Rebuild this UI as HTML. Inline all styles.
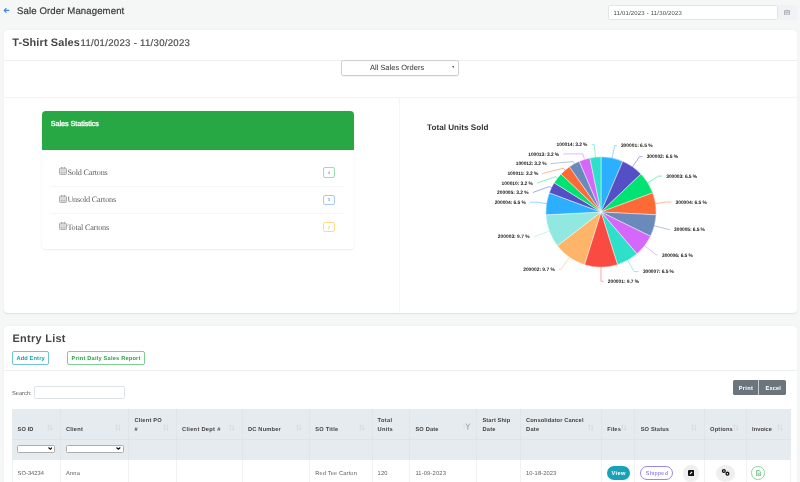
<!DOCTYPE html>
<html><head><meta charset="utf-8"><title>Sale Order Management</title>
<style>
*{box-sizing:border-box;margin:0;padding:0}
html,body{width:800px;height:482px;overflow:hidden;background:#f5f7f6;font-family:"Liberation Sans",sans-serif;color:#444;text-rendering:geometricPrecision}
.a{position:absolute}
.t{position:absolute;white-space:pre;line-height:20px}
.card{background:#fff;border-radius:4px;box-shadow:0 .6px 1.2px rgba(0,0,0,.09)}
.ln{position:absolute;background:#eceef0}
.sa{position:absolute;width:6px;height:7px}
</style></head><body>
<header>
<svg class="a" style="left:3px;top:7px;width:7px;height:7px" viewBox="0 0 7 7"><path d="M6.2 3.4H1.4M3.4 1.2L1.2 3.4L3.4 5.6" fill="none" stroke="#3b82f6" stroke-width="1.15"/></svg>
<div class="a" style="left:607.7px;top:5.3px;width:170.6px;height:14.9px;background:#fff;border:.6px solid #e1e5ea;border-radius:1.6px"></div>
<div class="a" style="left:778.4px;top:5.3px;width:18.4px;height:14.9px;background:#f0f2f5;border-radius:0 1.6px 1.6px 0"></div>
<svg class="a" style="left:784px;top:9.8px;width:6.2px;height:5.6px" viewBox="0 0 62 56"><rect x="4" y="6" width="54" height="46" rx="6" fill="none" stroke="#8a9097" stroke-width="7"/><path d="M4 20H58M22 20V52M40 20V52" stroke="#8a9097" stroke-width="5"/></svg>

<span class="t" style="left:17.00px;top:2px;font-size:9.6px;letter-spacing:0.111px;color:#3d3d3d;-webkit-text-stroke:.22px #3d3d3d;">Sale Order Management</span>
<span class="t" style="left:613.60px;top:4px;font-size:5.9px;letter-spacing:0.221px;color:#444;">11/01/2023 - 11/30/2023</span>
</header>
<main>
<section id="summary">
<div class="a card" style="left:3.5px;top:30px;width:793.2px;height:283px"></div>
<div class="ln" style="left:3.5px;top:59.8px;width:793.2px;height:.7px"></div>
<div class="ln" style="left:3.5px;top:97px;width:793.2px;height:1px;background:#f3f4f5"></div>
<div class="ln" style="left:399px;top:97.5px;width:1px;height:215.5px;background:#f4f5f6"></div>
<div class="a" style="left:341px;top:60px;width:117.6px;height:16px;background:#fff;border:1px solid #cecece;border-radius:2.5px;box-shadow:0 .5px .8px rgba(0,0,0,.06)"></div>
<svg class="a" style="left:451.6px;top:65.9px;width:2.8px;height:1.9px" viewBox="0 0 28 19"><path d="M0 0H28L14 19Z" fill="#555"/></svg>

<div class="a" style="left:42.3px;top:111px;width:311.7px;height:138.2px;background:#fff;border-radius:4px;box-shadow:0 .5px 2px rgba(0,0,0,.085)"></div>
<div class="a" style="left:42.3px;top:111px;width:311.7px;height:38.8px;background:#28a745;border-radius:4px 4px 0 0"></div>
<div class="ln" style="left:50.8px;top:185.5px;width:294.2px;height:.6px;background:#f5f6f7"></div>
<div class="ln" style="left:50.8px;top:213px;width:294.2px;height:.6px;background:#f5f6f7"></div>
<svg width="0" height="0" style="position:absolute"><defs><g id="ic"><rect x="5" y="12" width="70" height="63" rx="9" fill="none" stroke="#8c8c8c" stroke-width="7"/><path d="M5 28H75" stroke="#9a9a9a" stroke-width="5" fill="none"/><path d="M27 2V14M53 2V14" stroke="#666" stroke-width="8" fill="none"/><path d="M21 36v9M40 36v9M59 36v9M21 50v9M40 50v9M59 50v9M21 63v6M40 63v6M59 63v6" stroke="#6b7080" stroke-width="9"/></g></defs></svg>
<svg class="a" style="left:59px;top:167.3px;width:8px;height:8px" viewBox="0 0 80 80"><use href="#ic"/></svg>
<svg class="a" style="left:59px;top:194.8px;width:8px;height:8px" viewBox="0 0 80 80"><use href="#ic"/></svg>
<svg class="a" style="left:59px;top:222.3px;width:8px;height:8px" viewBox="0 0 80 80"><use href="#ic"/></svg>
<div class="a" style="left:323.2px;top:167.2px;width:11.7px;height:10.4px;border:1.2px solid #9fdcae;border-radius:2px"></div>
<div class="a" style="left:323.2px;top:194.6px;width:11.7px;height:10.4px;border:1.2px solid #a8c8f5;border-radius:2px"></div>
<div class="a" style="left:323.2px;top:222px;width:11.7px;height:10.4px;border:1.2px solid #ffdc8c;border-radius:2px"></div>

<svg class="a" style="left:0;top:0" width="800" height="482" viewBox="0 0 800 482">
<path d="M601.0 212.0L601.00 156.80A55.2 55.2 0 0 1 622.77 161.27Z" fill="#2caffe" stroke="#fff" stroke-width="0.45" stroke-linejoin="round"/>
<path d="M601.0 212.0L622.77 161.27A55.2 55.2 0 0 1 641.01 173.97Z" fill="#544fc5" stroke="#fff" stroke-width="0.45" stroke-linejoin="round"/>
<path d="M601.0 212.0L641.01 173.97A55.2 55.2 0 0 1 652.76 192.83Z" fill="#00e272" stroke="#fff" stroke-width="0.45" stroke-linejoin="round"/>
<path d="M601.0 212.0L652.76 192.83A55.2 55.2 0 0 1 656.13 214.80Z" fill="#fe6a35" stroke="#fff" stroke-width="0.45" stroke-linejoin="round"/>
<path d="M601.0 212.0L656.13 214.80A55.2 55.2 0 0 1 650.56 236.31Z" fill="#6b8abc" stroke="#fff" stroke-width="0.45" stroke-linejoin="round"/>
<path d="M601.0 212.0L650.56 236.31A55.2 55.2 0 0 1 636.96 253.88Z" fill="#d568fb" stroke="#fff" stroke-width="0.45" stroke-linejoin="round"/>
<path d="M601.0 212.0L636.96 253.88A55.2 55.2 0 0 1 617.52 264.67Z" fill="#2ee0ca" stroke="#fff" stroke-width="0.45" stroke-linejoin="round"/>
<path d="M601.0 212.0L617.52 264.67A55.2 55.2 0 0 1 584.48 264.67Z" fill="#fa4b42" stroke="#fff" stroke-width="0.45" stroke-linejoin="round"/>
<path d="M601.0 212.0L584.48 264.67A55.2 55.2 0 0 1 557.35 245.79Z" fill="#feb56a" stroke="#fff" stroke-width="0.45" stroke-linejoin="round"/>
<path d="M601.0 212.0L557.35 245.79A55.2 55.2 0 0 1 545.87 214.80Z" fill="#91e8e1" stroke="#fff" stroke-width="0.45" stroke-linejoin="round"/>
<path d="M601.0 212.0L545.87 214.80A55.2 55.2 0 0 1 549.24 192.83Z" fill="#2caffe" stroke="#fff" stroke-width="0.45" stroke-linejoin="round"/>
<path d="M601.0 212.0L549.24 192.83A55.2 55.2 0 0 1 554.15 182.80Z" fill="#544fc5" stroke="#fff" stroke-width="0.45" stroke-linejoin="round"/>
<path d="M601.0 212.0L554.15 182.80A55.2 55.2 0 0 1 560.99 173.97Z" fill="#00e272" stroke="#fff" stroke-width="0.45" stroke-linejoin="round"/>
<path d="M601.0 212.0L560.99 173.97A55.2 55.2 0 0 1 569.47 166.69Z" fill="#fe6a35" stroke="#fff" stroke-width="0.45" stroke-linejoin="round"/>
<path d="M601.0 212.0L569.47 166.69A55.2 55.2 0 0 1 579.23 161.27Z" fill="#6b8abc" stroke="#fff" stroke-width="0.45" stroke-linejoin="round"/>
<path d="M601.0 212.0L579.23 161.27A55.2 55.2 0 0 1 589.89 157.93Z" fill="#d568fb" stroke="#fff" stroke-width="0.45" stroke-linejoin="round"/>
<path d="M601.0 212.0L589.89 157.93A55.2 55.2 0 0 1 601.00 156.80Z" fill="#2ee0ca" stroke="#fff" stroke-width="0.45" stroke-linejoin="round"/>
<path d="M616.70 145.50L614.67 145.50L612.61 155.48L612.11 157.93" fill="none" stroke="#2caffe" stroke-width="0.5"/>
<path d="M642.50 156.70L639.49 156.70L633.96 164.64L632.53 166.69" fill="none" stroke="#544fc5" stroke-width="0.5"/>
<path d="M662.10 176.10L658.60 176.10L649.97 181.48L647.85 182.80" fill="none" stroke="#00e272" stroke-width="0.5"/>
<path d="M671.40 202.00L666.28 202.00L658.03 203.26L655.56 203.64" fill="none" stroke="#fe6a35" stroke-width="0.5"/>
<path d="M669.90 229.60L668.98 229.60L656.86 226.46L654.44 225.84" fill="none" stroke="#6b8abc" stroke-width="0.5"/>
<path d="M657.80 254.80L656.29 254.80L646.63 247.32L644.65 245.79" fill="none" stroke="#d568fb" stroke-width="0.5"/>
<path d="M638.70 271.60L634.08 271.60L629.00 262.45L627.79 260.26" fill="none" stroke="#2ee0ca" stroke-width="0.5"/>
<path d="M603.60 281.30L601.00 281.30L601.00 269.70L601.00 267.20" fill="none" stroke="#fa4b42" stroke-width="0.5"/>
<path d="M559.00 269.30L561.12 269.30L568.04 259.36L569.47 257.31" fill="none" stroke="#feb56a" stroke-width="0.5"/>
<path d="M533.80 236.50L534.85 236.50L546.89 232.04L549.24 231.17" fill="none" stroke="#91e8e1" stroke-width="0.5"/>
<path d="M530.00 202.20L537.03 202.20L543.97 203.26L546.44 203.64" fill="none" stroke="#2caffe" stroke-width="0.5"/>
<path d="M532.80 192.50L549.20 186.59L551.44 187.69" fill="none" stroke="#544fc5" stroke-width="0.5"/>
<path d="M537.10 183.20L555.37 176.68L557.35 178.21" fill="none" stroke="#00e272" stroke-width="0.5"/>
<path d="M542.40 173.50L563.42 168.22L565.04 170.12" fill="none" stroke="#fe6a35" stroke-width="0.5"/>
<path d="M550.60 163.60L573.00 161.55L574.21 163.74" fill="none" stroke="#6b8abc" stroke-width="0.5"/>
<path d="M563.30 153.90L582.77 153.90L583.73 156.95L584.48 159.33" fill="none" stroke="#d568fb" stroke-width="0.5"/>
<path d="M591.60 144.60L594.15 144.60L595.16 154.60L595.42 157.08" fill="none" stroke="#2ee0ca" stroke-width="0.5"/>
</svg>

<span class="t" style="left:12.20px;top:33px;font-size:10.9px;letter-spacing:0.140px;color:#444;font-weight:bold;">T-Shirt Sales</span>
<span class="t" style="left:80.50px;top:34px;font-size:9.6px;letter-spacing:0.287px;color:#505050;-webkit-text-stroke:.2px #505050;">11/01/2023 - 11/30/2023</span>
<span class="t" style="left:369.90px;top:58px;font-size:7.5px;letter-spacing:0.007px;color:#333;">All Sales Orders</span>
<span class="t" style="left:50.80px;top:114px;font-size:7.3px;letter-spacing:-0.087px;color:#fff;-webkit-text-stroke:.3px #fff;">Sales Statistics</span>
<span class="t" style="left:67.40px;top:163px;font-size:8.2px;letter-spacing:-0.196px;color:#606060;font-family:'Liberation Serif',serif;">Sold Cartons</span>
<span class="t" style="left:67.40px;top:190px;font-size:8.2px;letter-spacing:-0.184px;color:#606060;font-family:'Liberation Serif',serif;">Unsold Cartons</span>
<span class="t" style="left:67.40px;top:218px;font-size:8.2px;letter-spacing:-0.203px;color:#606060;font-family:'Liberation Serif',serif;">Total Cartons</span>
<span class="t" style="left:427.10px;top:118px;font-size:8.1px;letter-spacing:0.025px;color:#333;font-weight:bold;">Total Units Sold</span>
<span class="t" style="left:327.80px;top:163px;font-size:4.2px;letter-spacing:0.356px;color:#6cc283;font-weight:bold;">4</span>
<span class="t" style="left:327.80px;top:190px;font-size:4.2px;letter-spacing:0.356px;color:#7aa7e6;font-weight:bold;">3</span>
<span class="t" style="left:327.80px;top:218px;font-size:4.2px;letter-spacing:0.356px;color:#f5c15a;font-weight:bold;">7</span>
<span class="t" style="left:620.90px;top:137px;font-size:4.9px;letter-spacing:-0.010px;color:#1a1a1a;font-weight:bold;">300001: 6.5 %</span>
<span class="t" style="left:646.70px;top:148px;font-size:4.9px;letter-spacing:-0.041px;color:#1a1a1a;font-weight:bold;">300002: 6.5 %</span>
<span class="t" style="left:666.30px;top:168px;font-size:4.9px;letter-spacing:-0.087px;color:#1a1a1a;font-weight:bold;">300003: 6.5 %</span>
<span class="t" style="left:675.60px;top:194px;font-size:4.9px;letter-spacing:-0.048px;color:#1a1a1a;font-weight:bold;">300004: 6.5 %</span>
<span class="t" style="left:674.10px;top:221px;font-size:4.9px;letter-spacing:-0.079px;color:#1a1a1a;font-weight:bold;">300005: 6.5 %</span>
<span class="t" style="left:662.00px;top:247px;font-size:4.9px;letter-spacing:-0.079px;color:#1a1a1a;font-weight:bold;">300006: 6.5 %</span>
<span class="t" style="left:642.90px;top:263px;font-size:4.9px;letter-spacing:-0.064px;color:#1a1a1a;font-weight:bold;">300007: 6.5 %</span>
<span class="t" style="left:607.80px;top:273px;font-size:4.9px;letter-spacing:-0.033px;color:#1a1a1a;font-weight:bold;">200001: 9.7 %</span>
<span class="t" style="left:523.20px;top:261px;font-size:4.9px;letter-spacing:-0.018px;color:#1a1a1a;font-weight:bold;">200002: 9.7 %</span>
<span class="t" style="left:497.80px;top:228px;font-size:4.9px;letter-spacing:-0.002px;color:#1a1a1a;font-weight:bold;">200003: 9.7 %</span>
<span class="t" style="left:494.70px;top:194px;font-size:4.9px;letter-spacing:-0.056px;color:#1a1a1a;font-weight:bold;">200004: 6.5 %</span>
<span class="t" style="left:497.10px;top:184px;font-size:4.9px;letter-spacing:-0.025px;color:#1a1a1a;font-weight:bold;">200005: 3.2 %</span>
<span class="t" style="left:501.60px;top:175px;font-size:4.9px;letter-spacing:-0.041px;color:#1a1a1a;font-weight:bold;">100010: 3.2 %</span>
<span class="t" style="left:507.40px;top:165px;font-size:4.9px;letter-spacing:-0.057px;color:#1a1a1a;font-weight:bold;">100011: 3.2 %</span>
<span class="t" style="left:515.80px;top:155px;font-size:4.9px;letter-spacing:-0.094px;color:#1a1a1a;font-weight:bold;">100012: 3.2 %</span>
<span class="t" style="left:528.30px;top:146px;font-size:4.9px;letter-spacing:-0.079px;color:#1a1a1a;font-weight:bold;">100013: 3.2 %</span>
<span class="t" style="left:556.60px;top:136px;font-size:4.9px;letter-spacing:-0.079px;color:#1a1a1a;font-weight:bold;">100014: 3.2 %</span>
</section>
<section id="entry-list">
<div class="a card" style="left:3.5px;top:326.2px;width:793.2px;height:170px"></div>
<div class="a" style="left:12px;top:351px;width:36.8px;height:13.6px;border:.7px solid #6fc3d3;border-radius:2px"></div>
<div class="a" style="left:67px;top:351px;width:77.8px;height:13.6px;border:.7px solid #80cc92;border-radius:2px"></div>
<div class="ln" style="left:3.5px;top:369.6px;width:793.2px;height:.7px"></div>
<div class="a" style="left:34.4px;top:385.6px;width:90.4px;height:13.8px;border:.6px solid #dde2e7;border-radius:1.6px;background:#fff"></div>
<div class="a" style="left:733.1px;top:380.4px;width:53.2px;height:14.6px;background:#6c757d;border-radius:1.6px"></div>
<div class="a" style="left:758.3px;top:380.4px;width:1.2px;height:14.6px;background:#c9cdd1"></div>

<!-- table -->
<div class="a" style="left:12px;top:408.8px;width:778.9px;height:50.8px;background:#e6ebef"></div>
<div class="ln" style="left:12px;top:438.5px;width:778.9px;height:.6px;background:#dfe4e9"></div>
<div class="ln" style="left:60px;top:408.8px;width:1px;height:50.8px;background:#e0e5ea"></div><div class="ln" style="left:60px;top:459.6px;width:1px;height:30px;background:#f0f2f4"></div><div class="ln" style="left:128px;top:408.8px;width:1px;height:50.8px;background:#e0e5ea"></div><div class="ln" style="left:128px;top:459.6px;width:1px;height:30px;background:#f0f2f4"></div><div class="ln" style="left:176px;top:408.8px;width:1px;height:50.8px;background:#e0e5ea"></div><div class="ln" style="left:176px;top:459.6px;width:1px;height:30px;background:#f0f2f4"></div><div class="ln" style="left:242px;top:408.8px;width:1px;height:50.8px;background:#e0e5ea"></div><div class="ln" style="left:242px;top:459.6px;width:1px;height:30px;background:#f0f2f4"></div><div class="ln" style="left:309px;top:408.8px;width:1px;height:50.8px;background:#e0e5ea"></div><div class="ln" style="left:309px;top:459.6px;width:1px;height:30px;background:#f0f2f4"></div><div class="ln" style="left:372px;top:408.8px;width:1px;height:50.8px;background:#e0e5ea"></div><div class="ln" style="left:372px;top:459.6px;width:1px;height:30px;background:#f0f2f4"></div><div class="ln" style="left:409px;top:408.8px;width:1px;height:50.8px;background:#e0e5ea"></div><div class="ln" style="left:409px;top:459.6px;width:1px;height:30px;background:#f0f2f4"></div><div class="ln" style="left:476px;top:408.8px;width:1px;height:50.8px;background:#e0e5ea"></div><div class="ln" style="left:476px;top:459.6px;width:1px;height:30px;background:#f0f2f4"></div><div class="ln" style="left:520px;top:408.8px;width:1px;height:50.8px;background:#e0e5ea"></div><div class="ln" style="left:520px;top:459.6px;width:1px;height:30px;background:#f0f2f4"></div><div class="ln" style="left:601px;top:408.8px;width:1px;height:50.8px;background:#e0e5ea"></div><div class="ln" style="left:601px;top:459.6px;width:1px;height:30px;background:#f0f2f4"></div><div class="ln" style="left:634px;top:408.8px;width:1px;height:50.8px;background:#e0e5ea"></div><div class="ln" style="left:634px;top:459.6px;width:1px;height:30px;background:#f0f2f4"></div><div class="ln" style="left:704px;top:408.8px;width:1px;height:50.8px;background:#e0e5ea"></div><div class="ln" style="left:704px;top:459.6px;width:1px;height:30px;background:#f0f2f4"></div><div class="ln" style="left:746px;top:408.8px;width:1px;height:50.8px;background:#e0e5ea"></div><div class="ln" style="left:746px;top:459.6px;width:1px;height:30px;background:#f0f2f4"></div><div class="ln" style="left:12px;top:459.6px;width:1px;height:30px;background:#f0f2f4"></div><div class="ln" style="left:790px;top:459.6px;width:1px;height:30px;background:#f0f2f4"></div>
<svg class="sa" style="left:46.8px;top:423.8px" viewBox="0 0 60 70"><path d="M14 62V10M4 22L14 9L24 22M42 8V60M32 48L42 61L52 48" fill="none" stroke="#cdd2d9" stroke-width="5.5"/></svg><svg class="sa" style="left:114.8px;top:423.8px" viewBox="0 0 60 70"><path d="M14 62V10M4 22L14 9L24 22M42 8V60M32 48L42 61L52 48" fill="none" stroke="#cdd2d9" stroke-width="5.5"/></svg><svg class="sa" style="left:163.0px;top:423.8px" viewBox="0 0 60 70"><path d="M14 62V10M4 22L14 9L24 22M42 8V60M32 48L42 61L52 48" fill="none" stroke="#cdd2d9" stroke-width="5.5"/></svg><svg class="sa" style="left:228.8px;top:423.8px" viewBox="0 0 60 70"><path d="M14 62V10M4 22L14 9L24 22M42 8V60M32 48L42 61L52 48" fill="none" stroke="#cdd2d9" stroke-width="5.5"/></svg><svg class="sa" style="left:295.8px;top:423.8px" viewBox="0 0 60 70"><path d="M14 62V10M4 22L14 9L24 22M42 8V60M32 48L42 61L52 48" fill="none" stroke="#cdd2d9" stroke-width="5.5"/></svg><svg class="sa" style="left:358.8px;top:423.8px" viewBox="0 0 60 70"><path d="M14 62V10M4 22L14 9L24 22M42 8V60M32 48L42 61L52 48" fill="none" stroke="#cdd2d9" stroke-width="5.5"/></svg><svg class="sa" style="left:587.9px;top:423.8px" viewBox="0 0 60 70"><path d="M14 62V10M4 22L14 9L24 22M42 8V60M32 48L42 61L52 48" fill="none" stroke="#cdd2d9" stroke-width="5.5"/></svg><svg class="sa" style="left:621.0px;top:423.8px" viewBox="0 0 60 70"><path d="M14 62V10M4 22L14 9L24 22M42 8V60M32 48L42 61L52 48" fill="none" stroke="#cdd2d9" stroke-width="5.5"/></svg><svg class="sa" style="left:691.3px;top:423.8px" viewBox="0 0 60 70"><path d="M14 62V10M4 22L14 9L24 22M42 8V60M32 48L42 61L52 48" fill="none" stroke="#cdd2d9" stroke-width="5.5"/></svg><svg class="sa" style="left:733.0px;top:423.8px" viewBox="0 0 60 70"><path d="M14 62V10M4 22L14 9L24 22M42 8V60M32 48L42 61L52 48" fill="none" stroke="#cdd2d9" stroke-width="5.5"/></svg><svg class="sa" style="left:777.3px;top:423.8px" viewBox="0 0 60 70"><path d="M14 62V10M4 22L14 9L24 22M42 8V60M32 48L42 61L52 48" fill="none" stroke="#cdd2d9" stroke-width="5.5"/></svg><svg class="a" style="left:463.4px;top:422.6px;width:8px;height:8px" viewBox="0 0 80 80"><path d="M10 62V22M4 30L10 20L16 30" fill="none" stroke="#cdd2d9" stroke-width="5"/><path d="M28 6L48 34L70 6M48 30V68" fill="none" stroke="#8d94a6" stroke-width="8"/></svg>
<div class="a" style="left:17px;top:445px;width:38px;height:8px;background:#fff;border:1px solid #adadad;border-radius:1.5px"></div>
<div class="a" style="left:66px;top:445px;width:57.5px;height:8px;background:#fff;border:1px solid #adadad;border-radius:1.5px"></div>
<svg class="a" style="left:47.7px;top:447.3px;width:4.8px;height:3px" viewBox="0 0 48 30"><path d="M5 5L24 22L43 5" fill="none" stroke="#111" stroke-width="12"/></svg>
<svg class="a" style="left:116.2px;top:447.3px;width:4.8px;height:3px" viewBox="0 0 48 30"><path d="M5 5L24 22L43 5" fill="none" stroke="#111" stroke-width="12"/></svg>

<div class="a" style="left:607px;top:466px;width:22.5px;height:13.6px;background:#17a2b8;border-radius:7px"></div>
<div class="a" style="left:639.8px;top:466px;width:33.2px;height:14px;border:.7px solid #9a88ea;border-radius:7px"></div>
<div class="a" style="left:682.8px;top:465.3px;width:16.5px;height:16.5px;background:#efefef;border-radius:50%"></div>
<svg class="a" style="left:687.9px;top:469.8px;width:6.2px;height:6px" viewBox="0 0 62 60"><rect x="0" y="0" width="62" height="60" rx="10" fill="#111"/><path d="M16 44L20 32L38 14L46 22L28 40Z" fill="#fff"/></svg>
<div class="a" style="left:716.3px;top:465.3px;width:18.7px;height:16.5px;background:#efefef;border-radius:50%"></div>
<svg class="a" style="left:720px;top:468px;width:12px;height:9px" viewBox="0 0 12 9"><circle cx="3.85" cy="3.05" r="1.4" fill="none" stroke="#111" stroke-width="1.3"/><circle cx="7.45" cy="5.65" r="1.4" fill="none" stroke="#111" stroke-width="1.3"/></svg>
<div class="a" style="left:751.3px;top:466.3px;width:13.4px;height:13.4px;border:1px solid #8fd3a0;border-radius:50%"></div>
<svg class="a" style="left:755.9px;top:469.6px;width:5.4px;height:6.4px" viewBox="0 0 54 64"><path d="M6 5H32L47 20V59H6Z" fill="#eaf6ed" stroke="#5cbb72" stroke-width="8" stroke-linejoin="round"/><path d="M17 34H37M17 47H37" stroke="#5cbb72" stroke-width="6"/></svg>

<span class="t" style="left:12.40px;top:329px;font-size:10.9px;letter-spacing:0.317px;color:#444;font-weight:bold;">Entry List</span>
<span class="t" style="left:16.40px;top:349px;font-size:5.7px;letter-spacing:0.135px;color:#17a2b8;font-weight:bold;">Add Entry</span>
<span class="t" style="left:71.60px;top:349px;font-size:5.7px;letter-spacing:0.188px;color:#28a745;font-weight:bold;">Print Daily Sales Report</span>
<span class="t" style="left:12.00px;top:384px;font-size:5.7px;letter-spacing:-0.001px;color:#555;">Search:</span>
<span class="t" style="left:17.60px;top:420px;font-size:5.7px;letter-spacing:0.100px;color:#444;font-weight:bold;">SO ID</span>
<span class="t" style="left:66.00px;top:420px;font-size:5.7px;letter-spacing:0.198px;color:#444;font-weight:bold;">Client</span>
<span class="t" style="left:134.40px;top:411px;font-size:5.7px;letter-spacing:0.221px;color:#444;font-weight:bold;">Client PO</span>
<span class="t" style="left:134.40px;top:420px;font-size:5.7px;letter-spacing:0.628px;color:#444;font-weight:bold;">#</span>
<span class="t" style="left:182.00px;top:420px;font-size:5.7px;letter-spacing:0.295px;color:#444;font-weight:bold;">Client Dept #</span>
<span class="t" style="left:248.00px;top:420px;font-size:5.7px;letter-spacing:0.189px;color:#444;font-weight:bold;">DC Number</span>
<span class="t" style="left:315.20px;top:420px;font-size:5.7px;letter-spacing:0.226px;color:#444;font-weight:bold;">SO Title</span>
<span class="t" style="left:377.60px;top:411px;font-size:5.7px;letter-spacing:0.326px;color:#444;font-weight:bold;">Total</span>
<span class="t" style="left:377.60px;top:420px;font-size:5.7px;letter-spacing:0.236px;color:#444;font-weight:bold;">Units</span>
<span class="t" style="left:415.40px;top:420px;font-size:5.7px;letter-spacing:0.151px;color:#444;font-weight:bold;">SO Date</span>
<span class="t" style="left:482.40px;top:411px;font-size:5.7px;letter-spacing:0.113px;color:#444;font-weight:bold;">Start Ship</span>
<span class="t" style="left:482.40px;top:420px;font-size:5.7px;letter-spacing:0.268px;color:#444;font-weight:bold;">Date</span>
<span class="t" style="left:526.00px;top:411px;font-size:5.7px;letter-spacing:0.120px;color:#444;font-weight:bold;">Consolidator Cancel</span>
<span class="t" style="left:526.00px;top:420px;font-size:5.7px;letter-spacing:0.268px;color:#444;font-weight:bold;">Date</span>
<span class="t" style="left:607.30px;top:420px;font-size:5.7px;letter-spacing:0.146px;color:#444;font-weight:bold;">Files</span>
<span class="t" style="left:640.70px;top:420px;font-size:5.7px;letter-spacing:0.135px;color:#444;font-weight:bold;">SO Status</span>
<span class="t" style="left:710.00px;top:420px;font-size:5.7px;letter-spacing:0.217px;color:#444;font-weight:bold;">Options</span>
<span class="t" style="left:752.00px;top:420px;font-size:5.7px;letter-spacing:0.070px;color:#444;font-weight:bold;">Invoice</span>
<span class="t" style="left:17.60px;top:464px;font-size:5.7px;letter-spacing:0.058px;color:#5c5c5c;">SO-34234</span>
<span class="t" style="left:66.00px;top:464px;font-size:5.7px;letter-spacing:0.176px;color:#5c5c5c;">Anna</span>
<span class="t" style="left:315.20px;top:464px;font-size:5.7px;letter-spacing:0.148px;color:#5c5c5c;">Red Tee Carton</span>
<span class="t" style="left:377.60px;top:464px;font-size:5.7px;letter-spacing:0.167px;color:#5c5c5c;">120</span>
<span class="t" style="left:415.40px;top:464px;font-size:5.7px;letter-spacing:0.193px;color:#5c5c5c;">11-09-2023</span>
<span class="t" style="left:526.00px;top:464px;font-size:5.7px;letter-spacing:0.131px;color:#5c5c5c;">10-18-2023</span>
<span class="t" style="left:611.60px;top:464px;font-size:5.7px;letter-spacing:0.310px;color:#fff;font-weight:bold;">View</span>
<span class="t" style="left:645.60px;top:464px;font-size:5.7px;letter-spacing:0.246px;color:#7a63e0;">Shipped</span>
<span class="t" style="left:738.75px;top:379px;font-size:5.7px;letter-spacing:0.276px;color:#fff;font-weight:bold;">Print</span>
<span class="t" style="left:765.60px;top:379px;font-size:5.7px;letter-spacing:0.105px;color:#fff;font-weight:bold;">Excel</span>
</section>
</main>
</body></html>
